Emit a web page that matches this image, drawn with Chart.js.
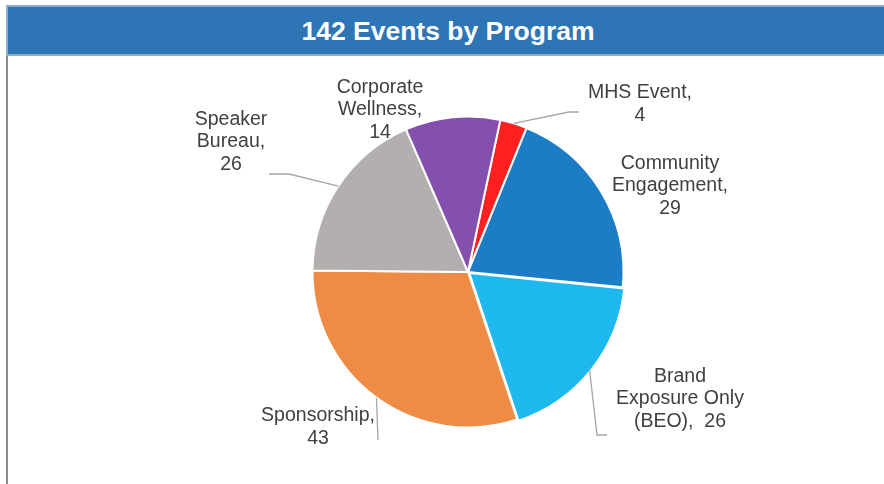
<!DOCTYPE html>
<html>
<head>
<meta charset="utf-8">
<script src="https://cdn.jsdelivr.net/npm/chart.js@4.4.1/dist/chart.umd.min.js"></script>
<style>
  html, body { margin: 0; padding: 0; background: #fff; }
  body { width: 884px; height: 484px; position: relative; overflow: hidden; font-family: 'Liberation Sans', Arial, sans-serif; }
  #title {
    position: absolute; left: 6px; top: 5px; width: 880px; height: 47px;
    background: #2E75B6; border: 2px solid #8DAACF; border-right: none;
    color: #fff; font-weight: bold; font-size: 26.5px; line-height: 49px; text-align: center;
    box-sizing: content-box;
  }
  #frame {
    position: absolute; left: 6px; top: 56px; width: 878px; height: 428px;
    border-left: 2px solid #8c8c8c; box-sizing: border-box;
  }
  #wrap { position: absolute; left: 8px; top: 56px; width: 876px; height: 428px; }
</style>
</head>
<body>
<div id="title">142 Events by Program</div>
<div id="frame"></div>
<div id="wrap"><canvas id="pie"></canvas></div>
<script>
'use strict';

// ─── Data ────────────────────────────────────────────────────────────────────
const categories = ['MHS Event', 'Community Engagement', 'Brand Exposure Only (BEO)', 'Sponsorship', 'Speaker Bureau', 'Corporate Wellness'];
const values = [4, 29, 26, 43, 26, 14];
const sliceColors = ['#FF2020', '#1C7CC6', '#1CB8EE', '#EE8B44', '#B2AFAE', '#8450AE'];

// display line breaks for each data label (value appended to last line)
const labelLines = [
  ['MHS Event,', ''],
  ['Community', 'Engagement,', ''],
  ['Brand', 'Exposure Only', '(BEO),  '],
  ['Sponsorship,', ''],
  ['Speaker', 'Bureau,', ''],
  ['Corporate', 'Wellness,', ''],
];

// label placement relative to pie centre, plus leader elbows (null = no leader)
const labelPos = [
  { x: 172, y: -168, leader: [[101, -160], [111, -160]] },
  { x: 202, y: -86,  leader: null },
  { x: 212, y: 127,  leader: [[129, 163], [139, 163]] },
  { x: -150, y: 155, leader: [[-90, 168]] },
  { x: -237, y: -130, leader: [[-179, -98], [-199, -98]] },
  { x: -88, y: -162, leader: null },
];

// ─── Data label plugin ───────────────────────────────────────────────────────
const pieLabels = {
  id: 'pieLabels',
  afterDatasetsDraw(chart) {
    const ctx = chart.ctx;
    const arcs = chart.getDatasetMeta(0).data;
    ctx.save();
    ctx.font = "19.5px 'Liberation Sans', Arial, sans-serif";
    ctx.fillStyle = '#404040';
    ctx.textAlign = 'center';
    ctx.textBaseline = 'middle';
    arcs.forEach((arc, i) => {
      const { x, y, startAngle, endAngle, outerRadius } = arc.getProps(['x', 'y', 'startAngle', 'endAngle', 'outerRadius'], true);
      const cx = chart.chartArea.left + chart.chartArea.width / 2;
      const cy = chart.chartArea.top + chart.chartArea.height / 2;
      const pos = labelPos[i];
      if (pos.leader) {
        const mid = (startAngle + endAngle) / 2;
        ctx.beginPath();
        ctx.strokeStyle = '#a6a6a6';
        ctx.lineWidth = 1.3;
        ctx.moveTo(x + Math.cos(mid) * outerRadius, y + Math.sin(mid) * outerRadius);
        pos.leader.forEach(p => ctx.lineTo(cx + p[0], cy + p[1]));
        ctx.stroke();
      }
      const lines = labelLines[i].slice();
      lines[lines.length - 1] += values[i];
      const lh = 22.5;
      const top = cy + pos.y - (lines.length - 1) * lh / 2;
      lines.forEach((t, k) => ctx.fillText(t, cx + pos.x, top + k * lh));
    });
    ctx.restore();
  },
};

// ─── Chart ───────────────────────────────────────────────────────────────────
new Chart(document.getElementById('pie').getContext('2d'), {
  type: 'pie',
  data: {
    labels: categories,
    datasets: [{
      data: values,
      backgroundColor: sliceColors,
      borderColor: '#ffffff',
      borderWidth: 2,
      offset: [0, 0, 7, 0, 0, 0],
      hoverOffset: 0,
    }],
  },
  options: {
    responsive: true, maintainAspectRatio: false,
    animation: false,
    rotation: 12,
    layout: { padding: { left: 44, right: 0, top: 56, bottom: 52 } },
    plugins: { legend: { display: false }, tooltip: { enabled: false }, title: { display: false } },
  },
  plugins: [pieLabels],
});
</script>
</body>
</html>
